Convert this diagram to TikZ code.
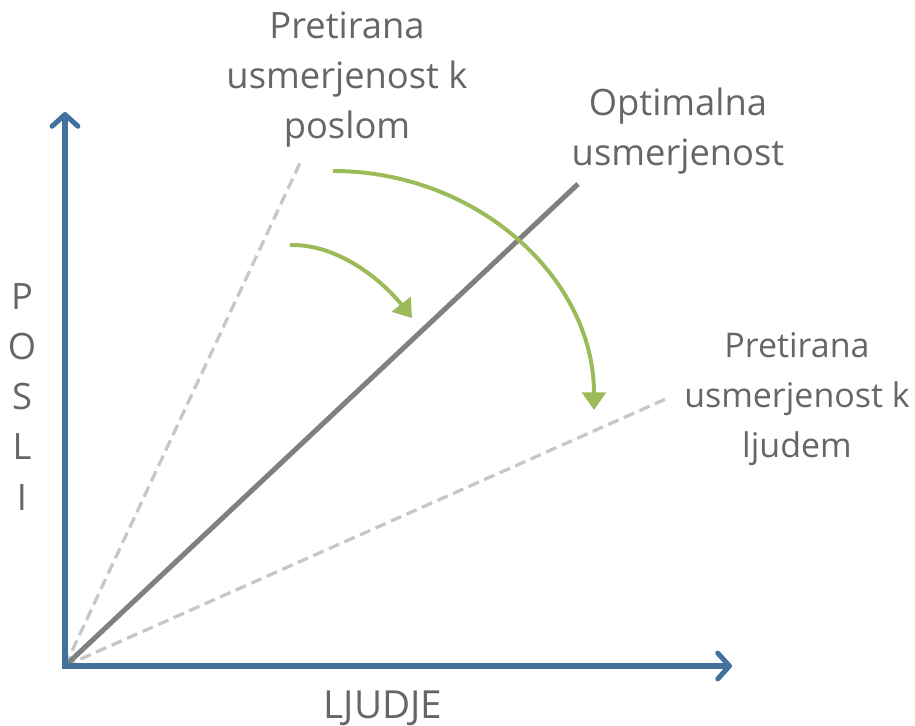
\documentclass[tikz,border=0pt]{standalone}
\usepackage{fontspec}
\setmainfont{Open Sans}
\usepackage{xcolor}
\usetikzlibrary{arrows.meta}

\definecolor{osmodra}{HTML}{41719C}
\definecolor{puszelena}{HTML}{9BBB59}
\definecolor{napissiva}{HTML}{666666}

\tikzset{
    os/.style={draw=osmodra, line width=4.3pt,
        -{Straight Barb[round, length=10pt, width=22pt, line width=4.3pt]}},
    optimalna/.style={draw=gray, line width=4.3pt},
    pretirana/.style={draw=black!22, line width=2.8pt, dash pattern=on 9.5pt off 5pt},
    puscica/.style={draw=puszelena, line width=3.4pt,
        -{Triangle[length=15pt, width=20pt]}},
    napis/.style={text=napissiva, align=center,
        font=\fontsize{31}{42.7}\selectfont}
}

\begin{document}
\begin{tikzpicture}[x=0.03cm, y=-0.03cm]
            \useasboundingbox (0,0) rectangle (915,726);

            \coordinate (o) at (65,666);
            \coordinate (yvrh) at (65,112);
            \coordinate (xkonec) at (732,666);
            \coordinate (optvrh) at (578,184);
            \coordinate (poslivrh) at (300,163);
            \coordinate (ljudjevrh) at (668,398);

            % crte
            \draw[pretirana] (o) -- (poslivrh);
            \draw[pretirana] (o) -- (ljudjevrh);
            \draw[optimalna] (o) -- (optvrh);

            % osi
            \draw[os, line cap=rect] (o) -- (yvrh);
            \draw[os, line cap=rect] (o) -- (xkonec);

            % puscici
            \coordinate (velikzac) at (333,171);
            \coordinate (velikkon) at (594,410);
            \coordinate (malizac) at (290,245);
            \coordinate (malikon) at (412,318);
            \draw[puscica] (velikzac) .. controls (477,171) and (594,278) .. (velikkon);
            \draw[puscica] (malizac) .. controls (342,244) and (386,285) .. (malikon);

            % napisi
            \node[napis] (poslom) at (347,80) {Pretirana\\usmerjenost k\\poslom};
            \node[napis] (optimum) at (678,131) {Optimalna\\usmerjenost};
            \node[napis, font=\fontsize{29}{42.7}\selectfont] (ljudem) at (797,399) {Pretirana\\usmerjenost k\\ljudem};
            \node[napis] (posli) at (22,397) {P\\O\\S\\L\\I};
            \node[napis, font=\fontsize{33}{42.7}\selectfont] (ljudje) at (383,708) {LJUDJE};
\end{tikzpicture}
\end{document}
